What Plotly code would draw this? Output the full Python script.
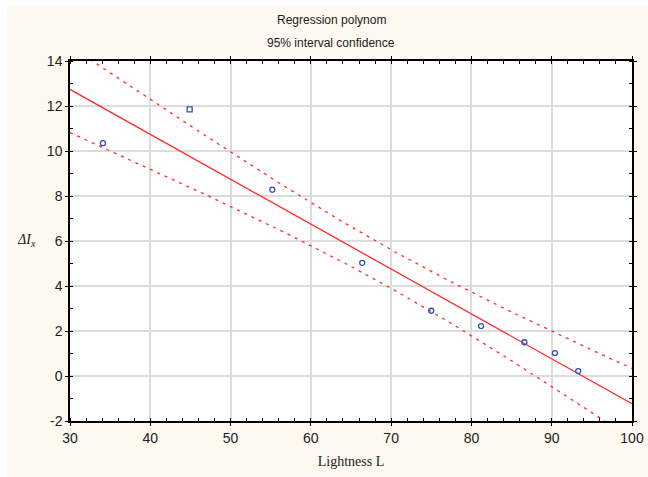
import numpy as np
import plotly.graph_objects as go

# Data
lightness = [34.1, 44.9, 55.2, 66.4, 75.0, 81.2, 86.6, 90.4, 93.3]
delta_ix = [10.35, 11.85, 8.28, 5.03, 2.90, 2.22, 1.50, 1.02, 0.22]
marker_symbols = ["circle-open", "square-open", "circle-open", "circle-open", "circle-open",
                  "circle-open", "circle-open", "circle-open", "circle-open"]
x_ticks = [30, 40, 50, 60, 70, 80, 90, 100]
y_ticks = [-2, 0, 2, 4, 6, 8, 10, 12, 14]
y_tick_labels = ["-2", "0", "2", "4", "6", "8", "10", "12", "14"]
title_lines = ["Regression polynom", "95% interval confidence"]
t_975_df7 = 2.365  # Student t quantile for 95% CI with n-2 = 7 dof

# Linear regression with 95% confidence band
x = np.array(lightness)
y = np.array(delta_ix)
n = len(x)
slope, intercept = np.polyfit(x, y, 1)
resid = y - (slope * x + intercept)
s = np.sqrt(np.sum(resid ** 2) / (n - 2))
sxx = np.sum((x - x.mean()) ** 2)
xs = np.linspace(30, 100, 141)
yfit = slope * xs + intercept
half = t_975_df7 * s * np.sqrt(1 / n + (xs - x.mean()) ** 2 / sxx)

red = "#ff2a2a"
fig = go.Figure()
fig.add_trace(go.Scatter(x=xs, y=yfit + half, mode="lines",
                         line=dict(color=red, width=1.3, dash="3px,5px"), showlegend=False))
fig.add_trace(go.Scatter(x=xs, y=yfit - half, mode="lines",
                         line=dict(color=red, width=1.3, dash="3px,5px"), showlegend=False))
fig.add_trace(go.Scatter(x=xs, y=yfit, mode="lines",
                         line=dict(color=red, width=1.3), showlegend=False))
fig.add_trace(go.Scatter(x=lightness, y=delta_ix, mode="markers",
                         marker=dict(symbol=marker_symbols, size=5, color="#2f4fb0",
                                     line=dict(width=1.3, color="#2f4fb0")),
                         showlegend=False))

L, R, T, B = 70, 16, 61, 56
W, H = 648, 477
pw, ph = W - L - R, H - T - B
cream = "#fdf8f0"

def px_x(p):
    return (p - L) / pw

def px_y(p):
    return (H - B - p) / ph

shapes = [
    dict(type="rect", xref="paper", yref="paper", x0=px_x(-2), x1=px_x(7), y0=px_y(H + 2), y1=px_y(-2),
         fillcolor="white", line=dict(width=0), layer="above"),
    dict(type="rect", xref="paper", yref="paper", x0=px_x(-2), x1=px_x(W + 2), y0=px_y(5), y1=px_y(-2),
         fillcolor="white", line=dict(width=0), layer="above"),
]

axis_common = dict(showline=True, linecolor="black", linewidth=1.5, mirror="allticks",
                   showgrid=True, gridcolor="#dcdcdc", gridwidth=1.5, zeroline=False,
                   ticks="outside", ticklen=3, tickcolor="black", automargin=False,
                   tickfont=dict(family="Liberation Sans, Arial", size=14, color="#222222"))

title_font = dict(family="Liberation Sans, Arial", size=12, color="#222222")
annotations = [
    dict(text=title_lines[0], xref="paper", yref="paper", x=px_x(331), y=px_y(20),
         xanchor="center", yanchor="middle", showarrow=False, font=title_font),
    dict(text=title_lines[1], xref="paper", yref="paper", x=px_x(331), y=px_y(43),
         xanchor="center", yanchor="middle", showarrow=False, font=title_font),
    dict(text="<i>ΔI<sub>x</sub></i>", xref="paper", yref="paper",
         x=px_x(26), y=px_y(240), xanchor="center", yanchor="middle", showarrow=False,
         font=dict(family="Liberation Serif, Times New Roman", size=14, color="#222222")),
]

fig.update_layout(
    width=W, height=H, autosize=False,
    margin=dict(l=L, r=R, t=T, b=B, pad=0, autoexpand=False),
    paper_bgcolor=cream, plot_bgcolor="white",
    shapes=shapes,
    annotations=annotations,
    xaxis=dict(range=[30, 100], tickvals=x_ticks,
               minor=dict(dtick=2, ticks="inside", ticklen=3, tickcolor="black", showgrid=False),
               title=dict(text="Lightness L", standoff=12,
                          font=dict(family="Liberation Serif, Times New Roman", size=14, color="#222222")),
               **axis_common),
    yaxis=dict(range=[-2, 14], tickvals=y_ticks, ticktext=y_tick_labels,
               minor=dict(dtick=1, ticks="inside", ticklen=3, tickcolor="black", showgrid=False),
               **axis_common),
)
fig.write_html("out.html", config={"displayModeBar": False},
               post_script="document.body.style.margin='0px';"
                           "document.documentElement.style.overflow='hidden';"
                           "document.body.style.overflow='hidden';")
